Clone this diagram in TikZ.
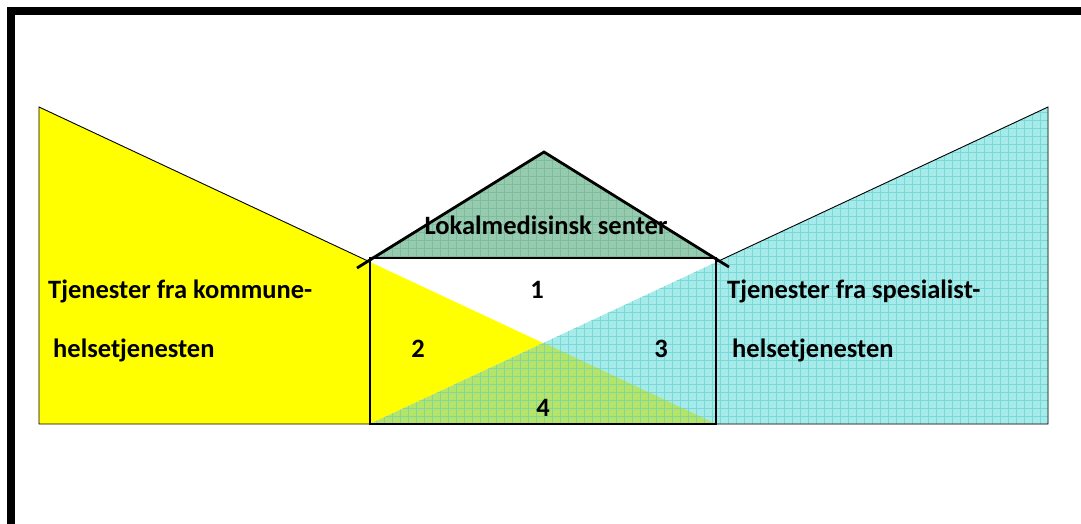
\documentclass[tikz,border=0pt]{standalone}
\usepackage{fontspec}
\setmainfont{Carlito}
\usetikzlibrary{calc}

\definecolor{kyellow}{HTML}{FFFF00}
\definecolor{scyan}{HTML}{A6EAEA}
\definecolor{scyangrid}{HTML}{78D9D9}
\definecolor{roofgreen}{HTML}{96CBB0}
\definecolor{roofgrid}{HTML}{7EBC9E}
\definecolor{mixgreen}{HTML}{B4E468}
\definecolor{mixgrid}{HTML}{84D69A}

\tikzset{
  lbl/.style={font=\fontsize{26.5}{30}\selectfont\bfseries, inner sep=0pt, text=black},
  thinedge/.style={draw=black, line width=0.9pt},
  housewall/.style={draw=black, line width=2.8pt},
  patterngrid/.style={line width=0.9pt},
}

\begin{document}
\begin{tikzpicture}[x=1pt, y=-1pt]
  \useasboundingbox (0,0) rectangle (1081,524);
  \fill[white] (0,0) rectangle (1081,524);

  % corner points
  \coordinate (yTop) at (39,107);
  \coordinate (yBot) at (39,424);
  \coordinate (cTop) at (1048,107);
  \coordinate (cBot) at (1048,424);
  \coordinate (hBL) at (370,424);
  \coordinate (hBR) at (716,424);
  \coordinate (hTL) at (370,258);
  \coordinate (hTR) at (716,258);
  \coordinate (apex) at (544,152);
  \coordinate (cross) at (544,343);
  \coordinate (eaveL) at (357,268);
  \coordinate (eaveR) at (729,267);

  % outer frame (top and left edges)
  \draw[line width=8pt] (11,524) -- (11,11) -- (1081,11);

  % municipal services wedge
  \fill[kyellow] (yTop) -- (yBot) -- (hBR) -- cycle;

  % specialist services wedge, with grid texture
  \begin{scope}
    \clip (cTop) -- (cBot) -- (hBL) -- cycle;
    \fill[scyan] (360,100) rectangle (1060,430);
    \draw[scyangrid, patterngrid, step=8pt] (360,100) grid (1060,430);
  \end{scope}

  % overlap of both wedges
  \begin{scope}
    \clip (hBL) -- (cross) -- (hBR) -- cycle;
    \fill[mixgreen] (360,330) rectangle (720,430);
    \draw[mixgrid, patterngrid, step=8pt] (360,100) grid (1060,430);
  \end{scope}

  % roof
  \begin{scope}
    \clip (apex) -- (hTL) -- (hTR) -- cycle;
    \fill[roofgreen] (360,140) rectangle (720,262);
    \draw[roofgrid, patterngrid, step=8pt] (360,100) grid (1060,430);
  \end{scope}

  % thin outlines of the wedges outside the house
  \draw[thinedge] ($(yTop)!0.4889!(hBR)$) -- (yTop) -- (yBot) -- (hBL);
  \draw[thinedge] ($(cTop)!0.4897!(hBL)$) -- (cTop) -- (cBot) -- (hBR);

  % house walls and roof
  \draw[housewall] (hTL) rectangle (hBR);
  \draw[housewall, line join=miter] (eaveL) -- (apex) -- (eaveR);

  % labels
  \node[lbl, anchor=base] (senter) at (546,234) {Lokalmedisinsk senter};
  \node[lbl, anchor=base] (n1) at (537,298) {1};
  \node[lbl, anchor=base] (n2) at (418,357) {2};
  \node[lbl, anchor=base] (n3) at (661,357) {3};
  \node[lbl, anchor=base] (n4) at (543,416) {4};
  \node[lbl, anchor=base west] (kom1) at (48,298) {Tjenester fra kommune-};
  \node[lbl, anchor=base west] (kom2) at (53,357) {helsetjenesten};
  \node[lbl, anchor=base west] (spe1) at (727,298) {Tjenester fra spesialist-};
  \node[lbl, anchor=base west] (spe2) at (732,357) {helsetjenesten};
\end{tikzpicture}
\end{document}
